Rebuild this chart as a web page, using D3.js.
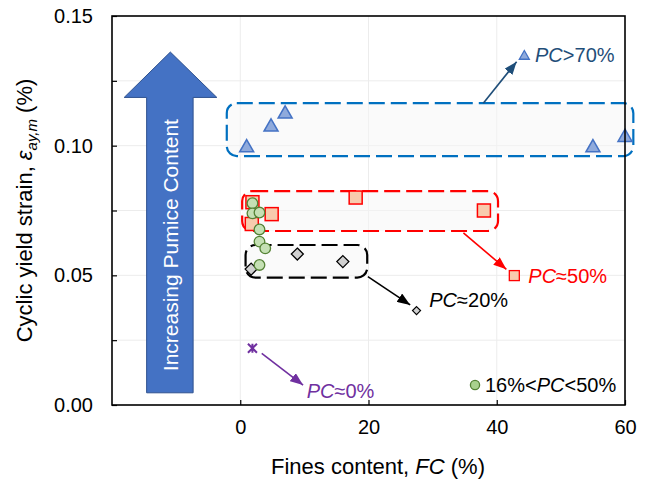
<!DOCTYPE html>
<html>
<head>
<meta charset="utf-8">
<script src="https://cdn.jsdelivr.net/npm/d3@7"></script>
<style>
  body { margin: 0; background: #fff; }
  text { font-family: "Liberation Sans", Arial, sans-serif; }
</style>
</head>
<body>
<svg id="chart"></svg>
<script>
// values
var triFC = [1, 4.8, 7, 55, 60];
var triStrain = [0.100, 0.108, 0.113, 0.100, 0.104];
var sqFC = [1.9, 1.8, 4.9, 18, 38];
var sqStrain = [0.0782, 0.0698, 0.0736, 0.0800, 0.0750];
var cirFC = [1.9, 1.9, 3.0, 3.0, 3.0, 3.9, 3.0];
var cirStrain = [0.0778, 0.0739, 0.0742, 0.0677, 0.0630, 0.0604, 0.0540];
var diaFC = [1.7, 8.9, 16];
var diaStrain = [0.0524, 0.0582, 0.0553];
var starFC = [1.9];
var starStrain = [0.0219];

var xTicks = [0, 20, 40, 60];
var yTicks = [0, 0.05, 0.10, 0.15];
var yMinor = [0.025, 0.075, 0.125];

// annotation shapes, in data units
var boxes = [
  {x0: -2.1, x1: 61.3, y0: 0.0960, y1: 0.1164, c: "#0070c0"},
  {x0: 0.3, x1: 40.2, y0: 0.0671, y1: 0.0825, c: "#ff0000"},
  {x0: 0.83, x1: 19.8, y0: 0.0491, y1: 0.0617, c: "#000000"}
];
var arrows = [
  {x0: 37.9, y0: 0.1164, x1: 43.1, y1: 0.1324, c: "#1f4e79", id: "aBlue"},
  {x0: 34.8, y0: 0.0664, x1: 41.5, y1: 0.0523, c: "#ff0000", id: "aRed"},
  {x0: 19.9, y0: 0.0495, x1: 26.5, y1: 0.0386, c: "#000000", id: "aBlack"},
  {x0: 3.35, y0: 0.0199, x1: 9.8, y1: 0.0077, c: "#7030a0", id: "aPurple"}
];

var screen = {width: 649, height: 481};
var svg = d3.select('#chart')
  .attr('width', screen.width)
  .attr('height', screen.height);

var plot = {left: 112, right: 625, top: 16, bottom: 405};

var xscale = d3.scaleLinear().domain([-20, 60]).range([plot.left, plot.right]);
var yscale = d3.scaleLinear().domain([0, 0.15]).range([plot.bottom, plot.top]);

// grid
var grid = svg.append('g').attr('stroke', '#ececec').attr('stroke-width', 1);
grid.selectAll('.hg').data(yMinor.concat([0.05, 0.10]))
  .enter().append('line')
  .attr('x1', plot.left).attr('x2', plot.right)
  .attr('y1', function(d) { return yscale(d); })
  .attr('y2', function(d) { return yscale(d); });
grid.selectAll('.vg').data([0, 20, 40])
  .enter().append('line')
  .attr('y1', plot.top).attr('y2', plot.bottom)
  .attr('x1', function(d) { return xscale(d); })
  .attr('x2', function(d) { return xscale(d); });

// big "increasing" arrow
var ba = {shaftL: -14.6, shaftR: -7.35, headL: -18.1, headR: -3.65, tipX: -10.9, bottom: 0.0047, headBase: 0.1186, tip: 0.1361};
var bigPts = [
  [ba.shaftL, ba.bottom], [ba.shaftL, ba.headBase], [ba.headL, ba.headBase], [ba.tipX, ba.tip],
  [ba.headR, ba.headBase], [ba.shaftR, ba.headBase], [ba.shaftR, ba.bottom]
];
svg.append('path')
  .attr('d', d3.line().x(function(d) { return xscale(d[0]); }).y(function(d) { return yscale(d[1]); })(bigPts) + 'Z')
  .attr('fill', '#4472c4')
  .attr('stroke', '#2f528f')
  .attr('stroke-width', 1);
svg.append('text')
  .attr('transform', 'translate(' + xscale(ba.tipX) + ',' + ((yscale(ba.bottom) + yscale(ba.headBase)) / 2) + ') rotate(-90)')
  .attr('text-anchor', 'middle')
  .attr('dy', '0.36em')
  .attr('fill', '#fff')
  .style('font-size', '21px')
  .text('Increasing Pumice Content');

// dashed group boxes
svg.selectAll('.box').data(boxes)
  .enter().append('rect')
  .attr('x', function(d) { return xscale(d.x0); })
  .attr('y', function(d) { return yscale(d.y1); })
  .attr('width', function(d) { return xscale(d.x1) - xscale(d.x0); })
  .attr('height', function(d) { return yscale(d.y0) - yscale(d.y1); })
  .attr('rx', 10).attr('ry', 10)
  .attr('fill', '#f5f5f5').attr('fill-opacity', 0.5)
  .attr('stroke', function(d) { return d.c; })
  .attr('stroke-width', 2.2)
  .attr('stroke-dasharray', '16,6');

// arrow heads
var defs = svg.append('defs');
arrows.forEach(function(a) {
  defs.append('marker')
    .attr('id', a.id)
    .attr('viewBox', '0 0 13 10')
    .attr('refX', 13).attr('refY', 5)
    .attr('markerWidth', 13).attr('markerHeight', 10)
    .attr('markerUnits', 'userSpaceOnUse')
    .attr('orient', 'auto')
    .append('path').attr('d', 'M0,0L13,5L0,10Z').attr('fill', a.c);
});
svg.selectAll('.arr').data(arrows)
  .enter().append('line')
  .attr('x1', function(d) { return xscale(d.x0); })
  .attr('y1', function(d) { return yscale(d.y0); })
  .attr('x2', function(d) { return xscale(d.x1); })
  .attr('y2', function(d) { return yscale(d.y1); })
  .attr('stroke', function(d) { return d.c; })
  .attr('stroke-width', 1.6)
  .attr('marker-end', function(d) { return 'url(#' + d.id + ')'; });

// marker shapes
function triPath(s) {
  var h = s * 0.87;
  return 'M0,' + (-h / 2) + 'L' + (s / 2) + ',' + (h / 2) + 'L' + (-s / 2) + ',' + (h / 2) + 'Z';
}
function diaPath(s) {
  var r = s / 2;
  return 'M0,' + (-r) + 'L' + r + ',0L0,' + r + 'L' + (-r) + ',0Z';
}
function starPath(s) {
  var r = s / 2;
  return 'M' + (-r) + ',' + (-r) + 'L' + r + ',' + r + 'M' + (-r) + ',' + r + 'L' + r + ',' + (-r) + 'M0,' + (-r) + 'L0,' + r;
}

var marks = svg.append('g');
// diamonds
marks.selectAll('.dia').data(diaFC)
  .enter().append('path')
  .attr('d', diaPath(12))
  .attr('transform', function(d, i) { return 'translate(' + xscale(d) + ',' + yscale(diaStrain[i]) + ')'; })
  .attr('fill', '#d0d0d0').attr('stroke', '#000').attr('stroke-width', 1.3);
// squares
marks.selectAll('.sq').data(sqFC)
  .enter().append('rect')
  .attr('x', function(d) { return xscale(d) - 6.5; })
  .attr('y', function(d, i) { return yscale(sqStrain[i]) - 6.5; })
  .attr('width', 13).attr('height', 13)
  .attr('fill', '#f8cbad').attr('stroke', '#ff0000').attr('stroke-width', 1.5);
// circles
marks.selectAll('.cir').data(cirFC)
  .enter().append('circle')
  .attr('cx', function(d) { return xscale(d); })
  .attr('cy', function(d, i) { return yscale(cirStrain[i]); })
  .attr('r', 5.3)
  .attr('fill', '#c5e0b4').attr('stroke', '#548235').attr('stroke-width', 1.3);
// triangles
marks.selectAll('.tri').data(triFC)
  .enter().append('path')
  .attr('d', triPath(14))
  .attr('transform', function(d, i) { return 'translate(' + xscale(d) + ',' + yscale(triStrain[i]) + ')'; })
  .attr('fill', '#8faadc').attr('stroke', '#4472c4').attr('stroke-width', 1.5);
// star
marks.selectAll('.star').data(starFC)
  .enter().append('path')
  .attr('d', starPath(9))
  .attr('transform', function(d, i) { return 'translate(' + xscale(d) + ',' + yscale(starStrain[i]) + ')'; })
  .attr('fill', 'none').attr('stroke', '#7030a0').attr('stroke-width', 2);

// group labels
var labels = [
  {mx: 44.3, my: 0.1350, tx: 45.97, ty: 0.1324, shape: 'tri', c: '#1f4e79', pre: '', mid: 'PC', post: '>70%'},
  {mx: 42.74, my: 0.0499, tx: 44.92, ty: 0.0472, shape: 'sq', c: '#ff0000', pre: '', mid: 'PC', post: '\u224850%'},
  {mx: 27.49, my: 0.0364, tx: 29.48, ty: 0.0379, shape: 'dia', c: '#000000', pre: '', mid: 'PC', post: '\u224820%'},
  {mx: null, my: null, tx: 10.36, ty: 0.0026, shape: 'none', c: '#7030a0', pre: '', mid: 'PC', post: '\u22480%'},
  {mx: 36.61, my: 0.0077, tx: 38.17, ty: 0.0051, shape: 'cir', c: '#000000', pre: '16%<', mid: 'PC', post: '<50%'}
];
labels.forEach(function(l) {
  var g = svg.append('g');
  if (l.shape == 'tri') {
    g.append('path').attr('d', triPath(10))
      .attr('transform', 'translate(' + xscale(l.mx) + ',' + yscale(l.my) + ')')
      .attr('fill', '#8faadc').attr('stroke', '#4472c4').attr('stroke-width', 1.3);
  } else if (l.shape == 'sq') {
    g.append('rect').attr('x', xscale(l.mx) - 5).attr('y', yscale(l.my) - 5)
      .attr('width', 10).attr('height', 10)
      .attr('fill', '#f8cbad').attr('stroke', '#ff0000').attr('stroke-width', 1.3);
  } else if (l.shape == 'dia') {
    g.append('path').attr('d', diaPath(8))
      .attr('transform', 'translate(' + xscale(l.mx) + ',' + yscale(l.my) + ')')
      .attr('fill', '#d0d0d0').attr('stroke', '#000').attr('stroke-width', 1.2);
  } else if (l.shape == 'cir') {
    g.append('circle').attr('cx', xscale(l.mx)).attr('cy', yscale(l.my)).attr('r', 4.6)
      .attr('fill', '#a9d18e').attr('stroke', '#548235').attr('stroke-width', 1.3);
  }
  var t = g.append('text')
    .attr('x', xscale(l.tx)).attr('y', yscale(l.ty))
    .attr('fill', l.c)
    .style('font-size', '20px');
  if (l.pre) t.append('tspan').text(l.pre);
  t.append('tspan').style('font-style', 'italic').text(l.mid);
  t.append('tspan').text(l.post);
});

// axes
var xAxis = d3.axisBottom(xscale).tickValues(xTicks).tickSize(-5).tickPadding(15)
  .tickFormat(d3.format('d'));
var gx = svg.append('g').attr('transform', 'translate(0,' + plot.bottom + ')').call(xAxis);
var yAxis = d3.axisLeft(yscale).tickValues(yTicks).tickSize(-5).tickPadding(19)
  .tickFormat(d3.format('.2f'));
var gy = svg.append('g').attr('transform', 'translate(' + plot.left + ',0)').call(yAxis);
var gym = svg.append('g').attr('transform', 'translate(' + plot.left + ',0)')
  .call(d3.axisLeft(yscale).tickValues(yMinor).tickSize(-5).tickFormat(''));
[gx, gy, gym].forEach(function(g) {
  g.select('.domain').remove();
  g.selectAll('line').attr('stroke', '#000').attr('stroke-width', 1.2);
  g.selectAll('text').attr('fill', '#000')
    .style('font-family', '"Liberation Sans", Arial, sans-serif')
    .style('font-size', '20px');
});

// frame
svg.append('rect')
  .attr('x', plot.left).attr('y', plot.top)
  .attr('width', plot.right - plot.left).attr('height', plot.bottom - plot.top)
  .attr('fill', 'none').attr('stroke', '#000').attr('stroke-width', 1.6);

// axis titles
var xt = svg.append('text')
  .attr('x', 378).attr('y', 474)
  .attr('text-anchor', 'middle')
  .style('font-size', '22px');
xt.append('tspan').text('Fines content, ');
xt.append('tspan').style('font-style', 'italic').text('FC');
xt.append('tspan').text(' (%)');

var yt = svg.append('text')
  .attr('transform', 'translate(32,' + ((plot.top + plot.bottom) / 2) + ') rotate(-90)')
  .attr('text-anchor', 'middle')
  .style('font-size', '22px');
yt.append('tspan').text('Cyclic yield strain, ');
yt.append('tspan').style('font-style', 'italic').text('\u03b5');
yt.append('tspan').style('font-style', 'italic').style('font-size', '15px').attr('dy', 5).text('ay,m');
yt.append('tspan').attr('dy', -5).text(' (%)');
</script>
</body>
</html>
